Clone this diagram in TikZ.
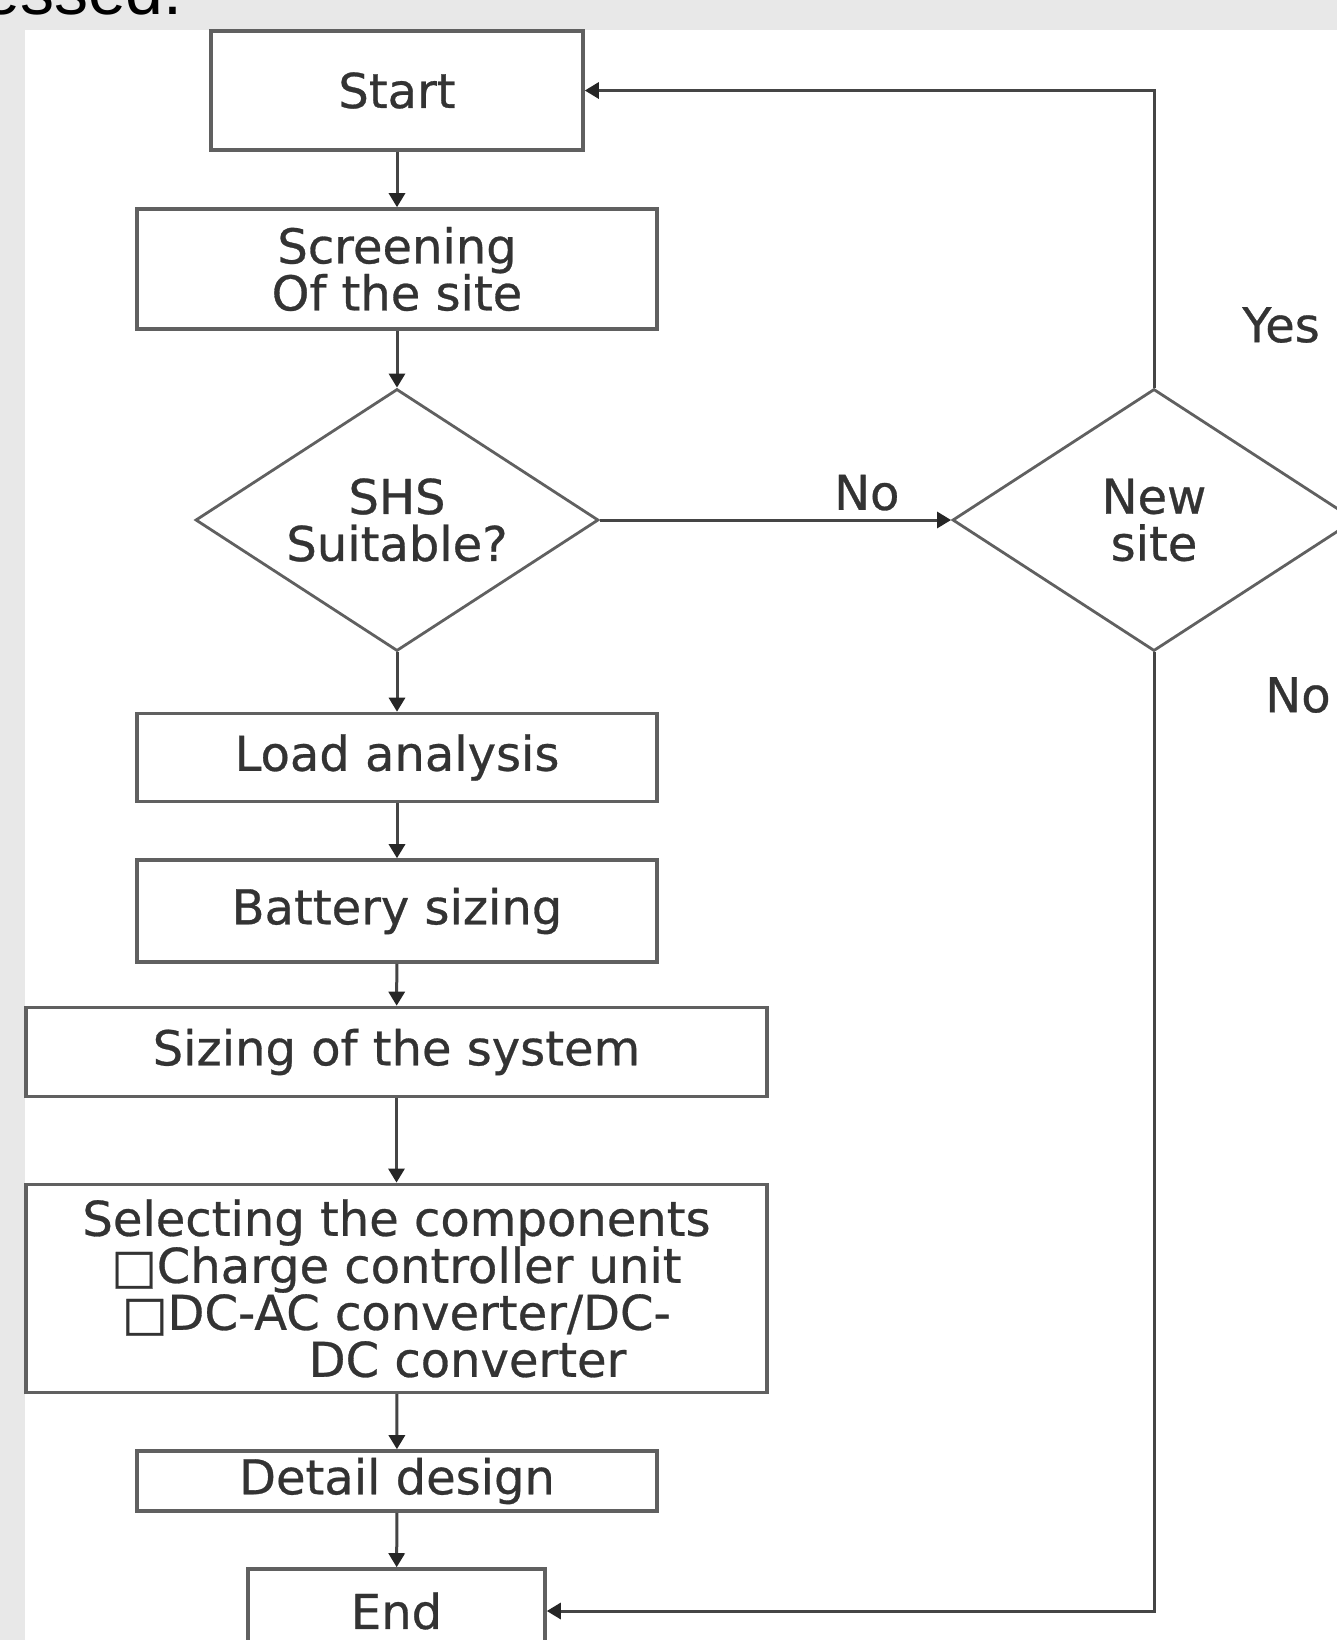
\documentclass[tikz,border=0pt]{standalone}
\usepackage{fontspec}
\setmainfont{DejaVu Sans}[FakeBold=0.6]
\newfontfamily\slidefont{Liberation Sans}
\usetikzlibrary{arrows.meta,positioning,shapes.geometric}

\definecolor{boxgray}{HTML}{606060}
\definecolor{linegray}{HTML}{454545}
\definecolor{textgray}{HTML}{333333}
\definecolor{slidegray}{HTML}{E8E8E8}

\begin{document}
\begin{tikzpicture}[x=0.5pt,y=-0.5pt]
  \tikzset{flow box/.style={draw=boxgray,line width=1.8pt,rectangle,inner sep=0pt,
      minimum width=#1,text=textgray,font=\fontsize{24}{23.5}\selectfont,align=center},
    flow box/.default=260pt,
    flow choice/.style={draw=boxgray,line width=1.4pt,diamond,aspect=1.54,inner sep=0pt,
      minimum width=201.5pt,minimum height=131pt,text=textgray,
      font=\fontsize{24}{23.5}\selectfont,align=center},
    flow line/.style={draw=linegray,line width=1.5pt,
      -{Triangle[length=7pt,width=8pt,color=black!85]}},
    flow label/.style={text=textgray,font=\fontsize{24}{23.5}\selectfont,inner sep=0pt}}

  % slide background
  \fill[slidegray] (0,0) rectangle (1337,1640);
  \fill[white] (25,30) rectangle (1337,1640);
  \useasboundingbox (0,0) rectangle (1337,1640);
  \clip (0,0) rectangle (1337,1640);
  \node (slide) [anchor=base east,inner sep=0pt,font=\slidefont\fontsize{34}{38}\selectfont] at (183,14.5) {essed.};

  \node (start) [flow box=186pt, minimum height=59.5pt] at (397,90.5) {Start};
  \node (screen) [flow box, minimum height=60pt] at (397,269) {Screening\\Of the site};
  \node (suit) [flow choice] at (397,520) {SHS\\Suitable?};
  \node (newsite) [flow choice] at (1154,520) {New\\site};
  \node (load) [flow box, minimum height=44pt] at (397,757.5) {Load analysis};
  \node (battery) [flow box, minimum height=51pt] at (397,911) {Battery sizing};
  \node (sizing) [flow box=370.5pt, minimum height=44.5pt] at (396.5,1052) {Sizing of the system};
  \node (select) [flow box=370.5pt, minimum height=104pt] at (396.5,1288.4)
    {Selecting the components\\□Charge controller unit\\□DC-AC converter/DC-\\\hspace*{71pt}DC converter};
  \node (detail) [flow box, minimum height=30pt] at (397,1481) {Detail design};
  \node (end) [flow box=148.5pt, minimum height=42pt] at (396.5,1611) {End};

  \node (yes) [flow label] at (1281,325) {Yes};
  \node (no) [flow label] at (1298,695) {No};

  \draw [flow line] (start) -- (screen);
  \draw [flow line] (screen) -- (suit);
  \draw [flow line] (suit) -- (load);
  \draw [flow line] (load) -- (battery);
  \draw [flow line] (battery) -- (sizing);
  \draw [flow line] (sizing) -- (select);
  \draw [flow line] (select) -- (detail);
  \draw [flow line] (detail) -- (end);
  \draw [flow line] (suit) -- node [flow label, pos=0.76, above=4pt] {No} (newsite);
  \draw [flow line] (newsite.north) |- (start.east);
  \draw [flow line] (newsite.south) |- (end.east);
\end{tikzpicture}
\end{document}
